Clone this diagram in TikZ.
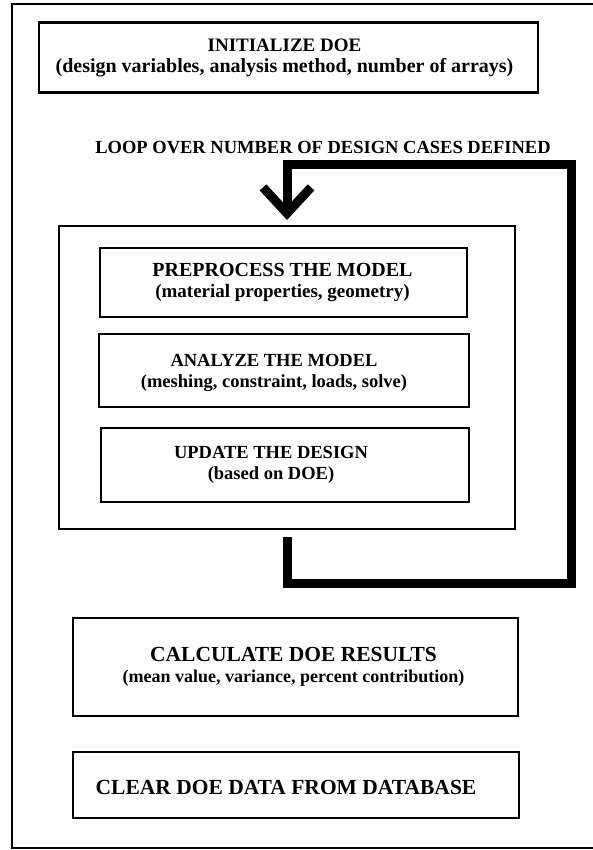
\documentclass[tikz,border=0pt]{standalone}
\usepackage{fontspec}
\setmainfont{Liberation Serif}
\usetikzlibrary{arrows.meta}
\newcommand{\boxline}{2pt}
\newcommand{\loopline}{9pt}
\newcommand{\titlefont}{\bfseries\fontsize{18.5}{21}\selectfont}
\newcommand{\bigfont}[1]{{\fontsize{#1}{21}\selectfont}}

\tikzset{
  stepbox/.style={draw, line width=\boxline, inner sep=0pt},
  steptext/.style={align=center, inner sep=0pt, font=\titlefont},
}

\begin{document}
\begin{tikzpicture}[x=1pt,y=-1pt]
\useasboundingbox (0,0) rectangle (593,850);
% frame
\draw[line width=1.6pt] (600,4) -- (12,4) -- (12,848) -- (600,848);
% boxes
\node[stepbox, line width=2.6pt, minimum width=499pt, minimum height=70pt] (1) at (288.5,57.5) {};
\node[steptext] (1t) at ([xshift=-4pt]1) {{\fontsize{19}{21}\selectfont INITIALIZE DOE}\\{\fontsize{20}{21}\selectfont (design variables, analysis method, number of arrays)}};
\node[steptext] (2) at (323,148) {LOOP OVER NUMBER OF DESIGN CASES DEFINED};
\node[stepbox, minimum width=456pt, minimum height=303pt] (3) at (287,377.5) {};
\node[stepbox, minimum width=367pt, minimum height=69pt] (4) at (283.5,282.5) {};
\node[steptext] (4t) at ([xshift=-1pt]4) {{\fontsize{20}{21}\selectfont PREPROCESS THE MODEL}\\{\fontsize{19}{21}\selectfont (material properties, geometry)}};
\node[stepbox, minimum width=370pt, minimum height=73pt] (5) at (284,370.5) {};
\node[steptext] (5t) at ([xshift=-10pt,yshift=-2pt]5) {ANALYZE THE MODEL\\(meshing, constraint, loads, solve)};
\node[stepbox, minimum width=368pt, minimum height=74pt] (6) at (285,465) {};
\node[steptext] (6t) at ([xshift=-14pt]6) {UPDATE THE DESIGN\\(based on DOE)};
\node[stepbox, minimum width=445pt, minimum height=98pt] (7) at (295.5,667) {};
\node[steptext] (7t) at ([xshift=-2pt]7) {{\fontsize{21.5}{22}\selectfont CALCULATE DOE RESULTS}\\{\fontsize{18}{21}\selectfont (mean value, variance, percent contribution)}};
\node[stepbox, minimum width=446pt, minimum height=66pt] (8) at (296,785) {};
\node[steptext, font=\bfseries\fontsize{21.5}{22}\selectfont] (8t) at ([xshift=-10pt,yshift=-2pt]8) {CLEAR DOE DATA FROM DATABASE};
% loop
\draw[line width=\loopline, -{Straight Barb[length=26pt,width=48pt]}] ([yshift=-7pt]3.south) |- (571,583.5) -- (571,164.5) -| ([yshift=5pt]3.north);
\end{tikzpicture}
\end{document}
